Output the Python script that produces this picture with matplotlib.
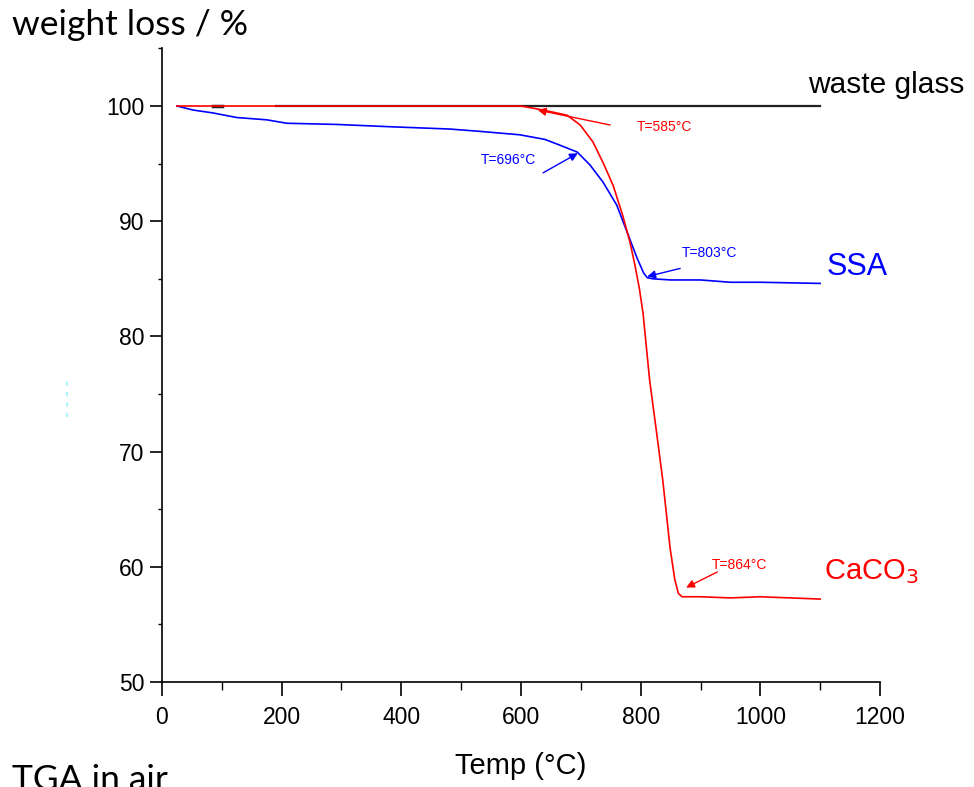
import matplotlib.pyplot as plt
from matplotlib.ticker import MultipleLocator

# TGA curves (temperature in °C, weight in %)
glass_temp = [190, 400, 600, 800, 1000, 1100]
glass_wt = [100.0, 100.0, 100.0, 100.0, 100.0, 100.0]
glass_stub_temp = [85, 100]
glass_stub_wt = [100.0, 100.0]

ssa_temp = [25, 52, 85, 125, 175, 209, 292, 381, 481, 531, 598, 640, 665, 694, 715,
            737, 760, 777, 794, 805, 811, 820, 850, 900, 950, 1000, 1100]
ssa_wt = [100.0, 99.65, 99.4, 99.0, 98.8, 98.5, 98.4, 98.2, 98.0, 97.8, 97.5, 97.1, 96.6, 96.0, 94.9,
          93.4, 91.4, 89.1, 86.8, 85.5, 85.1, 85.0, 84.9, 84.9, 84.7, 84.7, 84.6]

caco3_temp = [25, 200, 400, 600, 637, 677, 699, 720, 737, 754, 770, 782, 790, 798, 804,
              815, 826, 837, 849, 857, 863, 869, 900, 950, 1000, 1050, 1100]
caco3_wt = [100.0, 100.0, 100.0, 100.0, 99.65, 99.2, 98.35, 96.9, 95.1, 93.1, 90.5, 88.2, 86.3, 84.1, 82.0,
            76.2, 71.9, 67.5, 61.7, 58.9, 57.7, 57.4, 57.4, 57.3, 57.4, 57.3, 57.2]

# annotations: (label, arrow head, arrow tail, text position, colour)
notes = [
    ("T=585°C", (628, 99.65), (749, 98.35), (794, 98.2), "red"),
    ("T=696°C", (695, 95.9), (637, 94.2), (533, 95.3), "blue"),
    ("T=803°C", (811, 85.2), (866, 85.9), (869, 87.2), "blue"),
    ("T=864°C", (876, 58.2), (928, 59.55), (918, 60.2), "red"),
]

fig = plt.figure(figsize=(9.74, 7.87), dpi=100)
ax = fig.add_axes([0.1663, 0.1334, 0.7372, 0.8051])

ax.plot(glass_temp, glass_wt, color="#222222", lw=1.6)
ax.plot(glass_stub_temp, glass_stub_wt, color="#222222", lw=2.5)
ax.plot(ssa_temp, ssa_wt, color="blue", lw=1.2)
ax.plot(caco3_temp, caco3_wt, color="red", lw=1.2)

for label, head, tail, pos, c in notes:
    ax.annotate("", xy=head, xytext=tail,
                arrowprops=dict(arrowstyle="-|>", color=c, lw=1.0,
                                mutation_scale=12, shrinkA=0, shrinkB=0))
    ax.text(pos[0], pos[1], label, color=c, fontsize=10,
            family="Liberation Sans", ha="left", va="center")

ax.text(1080, 101.8, "waste glass", color="black", fontsize=21.5,
        family="Liberation Sans", ha="left", va="center")
ax.text(1110, 86.0, "SSA", color="blue", fontsize=22,
        family="Liberation Sans", ha="left", va="center")
ax.text(1106, 59.6, "CaCO$_3$", color="red", fontsize=21,
        family="Liberation Sans", ha="left", va="center")

ax.set_xlim(0, 1200)
ax.set_ylim(50, 105)
ax.xaxis.set_major_locator(MultipleLocator(200))
ax.xaxis.set_minor_locator(MultipleLocator(100))
ax.yaxis.set_major_locator(MultipleLocator(10))
ax.yaxis.set_minor_locator(MultipleLocator(5))
for s in ["top", "right"]:
    ax.spines[s].set_visible(False)
for s in ["left", "bottom"]:
    ax.spines[s].set_linewidth(1.2)
ax.tick_params(axis="x", which="major", direction="out", length=10, width=1.2,
               labelsize=16.5, pad=7)
ax.tick_params(axis="x", which="minor", direction="out", length=6, width=1.0)
ax.tick_params(axis="y", which="major", direction="out", length=8.5, width=1.2,
               labelsize=16.5, pad=4)
ax.tick_params(axis="y", which="minor", direction="out", length=3, width=1.0)
for lab in ax.get_xticklabels() + ax.get_yticklabels():
    lab.set_family("Liberation Sans")

ax.set_xlabel("Temp (°C)", fontsize=21, family="Liberation Sans", labelpad=17)

fig.text(0.012, 0.9555, "weight loss / %", fontsize=25.5, family="Lato",
         ha="left", va="baseline")
fig.text(0.012, -0.004, "TGA in air", fontsize=25.5, family="Lato",
         ha="left", va="baseline")

# faint cyan dots on the left margin
fig.add_artist(plt.Line2D([0.069, 0.069], [0.47, 0.52], color="#aef4ff",
                          lw=1.5, ls=(0, (2, 3))))

fig.savefig("out.png", dpi=100)
